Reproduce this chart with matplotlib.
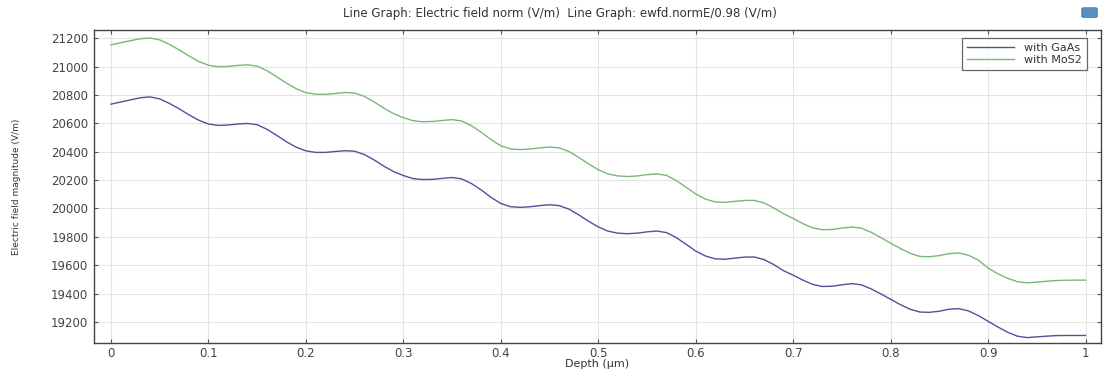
import numpy as np
import matplotlib
matplotlib.use("Agg")
import matplotlib.pyplot as plt
from matplotlib.patches import FancyBboxPatch

# depth samples (um)
depth = np.linspace(0, 1, 101)

# every 0.01 um
gaas = [20735, 20750, 20765, 20780, 20786, 20772, 20740, 20702, 20660, 20622,
        20595, 20585, 20588, 20595, 20599, 20590, 20558, 20515, 20470, 20432,
        20406, 20395, 20395, 20401, 20407, 20403, 20380, 20342, 20298, 20260,
        20232, 20210, 20204, 20205, 20212, 20218, 20208, 20175, 20130, 20078,
        20035, 20012, 20008, 20012, 20020, 20026, 20020, 19995, 19955, 19910,
        19870, 19840, 19826, 19822, 19826, 19835, 19841, 19830, 19795, 19748,
        19700, 19665, 19645, 19642, 19650, 19657, 19658, 19640, 19605, 19562,
        19530, 19495, 19465, 19450, 19452, 19462, 19470, 19462, 19433, 19398,
        19360, 19322, 19290, 19270, 19268, 19276, 19290, 19294, 19278, 19245,
        19205, 19165, 19128, 19100, 19090, 19095, 19100, 19104, 19105, 19105,
        19105]

mos2 = [21153, 21168, 21182, 21196, 21201, 21188, 21156, 21117, 21075, 21036,
        21009, 20999, 21001, 21008, 21012, 21003, 20971, 20928, 20883, 20844,
        20816, 20805, 20804, 20810, 20817, 20813, 20790, 20751, 20707, 20668,
        20640, 20618, 20611, 20613, 20620, 20626, 20616, 20582, 20537, 20485,
        20442, 20419, 20415, 20419, 20427, 20433, 20427, 20401, 20360, 20314,
        20273, 20243, 20229, 20225, 20229, 20238, 20244, 20233, 20197, 20150,
        20102, 20066, 20046, 20043, 20050, 20056, 20057, 20039, 20004, 19963,
        19930, 19893, 19863, 19850, 19852, 19862, 19869, 19861, 19832, 19795,
        19755, 19718, 19684, 19662, 19660, 19668, 19682, 19686, 19670, 19636,
        19580, 19540, 19508, 19484, 19476, 19481, 19487, 19492, 19494, 19495,
        19495]

labels = ["with GaAs", "with MoS2"]
xticks = [0, 0.1, 0.2, 0.3, 0.4, 0.5, 0.6, 0.7, 0.8, 0.9, 1]
xticklabels = ["0", "0.1", "0.2", "0.3", "0.4", "0.5", "0.6", "0.7", "0.8", "0.9", "1"]
yticks = list(range(19200, 21201, 200))

fig = plt.figure(figsize=(11.05, 3.69), dpi=100)
ax = fig.add_axes([0.085, 0.0705, 0.9115, 0.848])

ax.plot(depth, gaas, color="#50509e", lw=1.0, label=labels[0])
ax.plot(depth, mos2, color="#78b878", lw=1.0, label=labels[1])

ax.set_xlim(-0.0175, 1.016)
ax.set_ylim(19052, 21257)
ax.set_xticks(xticks)
ax.set_xticklabels(xticklabels)
ax.set_yticks(yticks)
ax.grid(True, color="#e4e4e4", lw=0.8)
ax.tick_params(direction="in", length=3, top=True, right=True,
               labelsize=8.5, labelcolor="#444444", color="#555555")
ax.tick_params(axis="x", pad=3)
ax.tick_params(axis="y", pad=4)
for s in ax.spines.values():
    s.set_color("#444444")
    s.set_linewidth(1.0)

ax.set_xlabel("Depth (\u00b5m)", fontsize=8, color="#333333", labelpad=-1)
ax.set_ylabel("Electric field magnitude (V/m)", fontsize=6.5,
              family=["Liberation Sans Narrow", "DejaVu Sans"], color="#333333", labelpad=22)

fig.text(0.507, 0.963, "Line Graph: Electric field norm (V/m)  Line Graph: ewfd.normE/0.98 (V/m)",
         ha="center", va="center", fontsize=8.5, color="#333333")

leg = ax.legend(loc="upper right", bbox_to_anchor=(0.986, 0.975), borderaxespad=0,
                fontsize=8, frameon=True, fancybox=False, edgecolor="#444444",
                handlelength=4.2, handletextpad=0.9, borderpad=0.45, labelspacing=0.15)
leg.get_frame().set_linewidth(0.9)
for t in leg.get_texts():
    t.set_color("#333333")

# small toolbar icon in top right corner
fig.patches.append(FancyBboxPatch((0.981, 0.955), 0.010, 0.022, boxstyle="round,pad=0.002",
                                  transform=fig.transFigure, fc="#5a8fc0", ec="#3a6a9a", lw=0.5))

fig.savefig("out.png", dpi=100)
